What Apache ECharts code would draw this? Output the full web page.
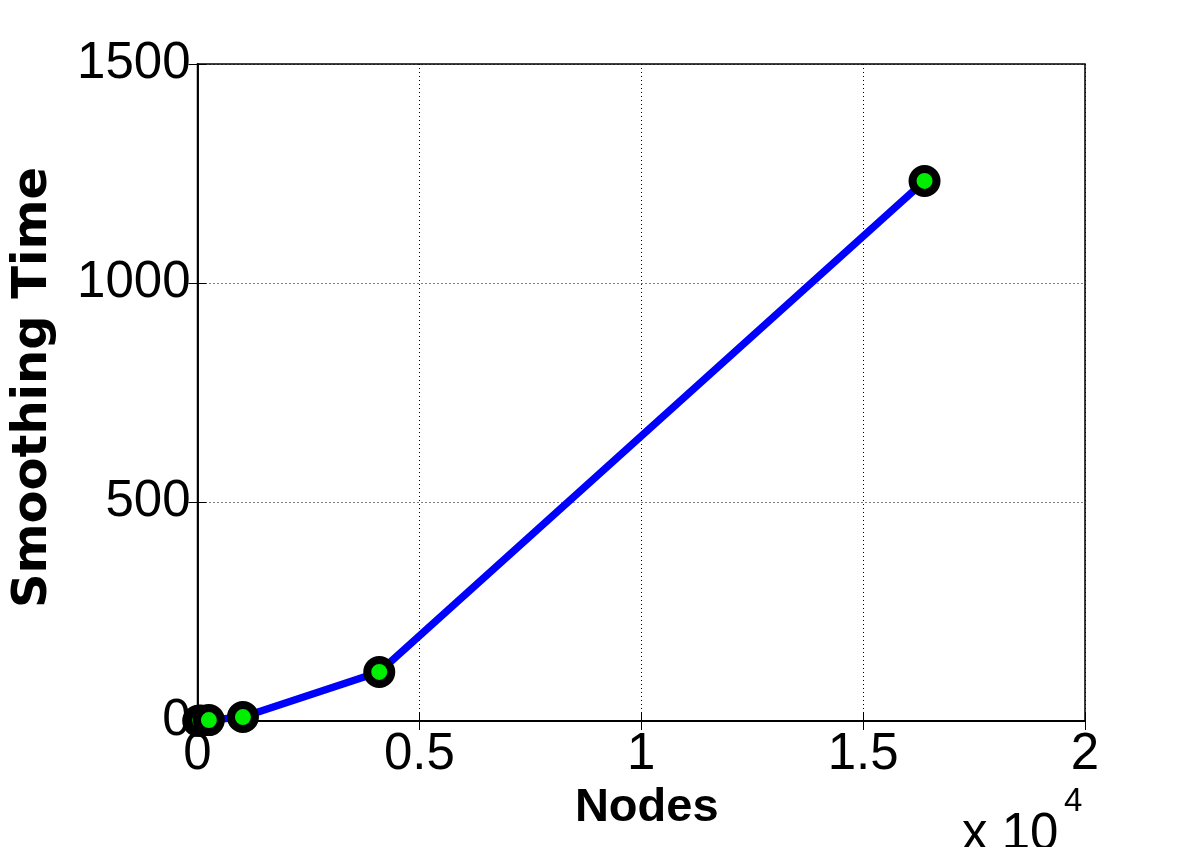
<!DOCTYPE html>
<html>
<head>
<meta charset="utf-8">
<script src="https://cdn.jsdelivr.net/npm/echarts@6/dist/echarts.min.js"></script>
<style>
html,body{margin:0;padding:0;background:#fff;}
#chart{width:1199px;height:847px;}
</style>
</head>
<body>
<div id="chart"></div>
<script>
const nodes = [16, 64, 256, 1024, 4096, 16384];
const smoothingTime = [0.3, 1, 2, 9, 112, 1233];
const xTicks = ['0', '0.5', '1', '1.5', '2'];
const yTicks = ['0', '500', '1000', '1500'];
const xName = 'Nodes';
const yName = 'Smoothing Time';
const xExponent = 'x 10';
const xExponentPow = '4';

const FONT = '"Liberation Sans", Arial, sans-serif';
const chart = echarts.init(document.getElementById('chart'));
const data = nodes.map((n, i) => [n, smoothingTime[i]]);

const axisCommon = {
  axisLine: { show: true, onZero: false, lineStyle: { color: '#000', width: 1.5 } },
  axisTick: { show: true, inside: true, length: 9, lineStyle: { color: '#000', width: 1 } },
  splitLine: { show: true, lineStyle: { color: '#000', type: [1, 3], width: 1 } }
};

chart.setOption({
  backgroundColor: '#fff',
  animation: false,
  grid: { left: 197.5, right: 114, top: 64, bottom: 126, show: true, borderColor: '#000', borderWidth: 1.5, backgroundColor: 'transparent' },
  xAxis: [{
    type: 'value', min: 0, max: 20000, interval: 5000,
    ...axisCommon,
    axisLabel: { color: '#000', fontSize: 51, fontFamily: FONT, margin: 8,
      formatter: v => xTicks[Math.round(v / 5000)] },
    name: xName, nameLocation: 'middle', nameGap: 60,
    nameTextStyle: { color: '#000', fontSize: 47, fontWeight: 'bold', fontFamily: FONT, padding: [0, 0, 0, 11] }
  }, {
    type: 'value', min: 0, max: 20000, interval: 5000, position: 'top',
    axisLine: { show: true, lineStyle: { color: '#000', width: 1.5 } },
    axisTick: { show: true, inside: true, length: 9, lineStyle: { color: '#000' } },
    axisLabel: { show: false }, splitLine: { show: false }
  }],
  yAxis: [{
    type: 'value', min: 0, max: 1500, interval: 500,
    ...axisCommon,
    axisLabel: { color: '#000', fontSize: 51, fontFamily: FONT, margin: 7,
      formatter: v => yTicks[Math.round(v / 500)] },
    name: yName, nameLocation: 'middle', nameGap: 140,
    nameTextStyle: { color: '#000', fontSize: 48, fontWeight: 'bold', fontFamily: '"DejaVu Sans", sans-serif', padding: [0, 0, 0, 10] }
  }, {
    type: 'value', min: 0, max: 1500, interval: 500, position: 'right',
    axisLine: { show: true, lineStyle: { color: '#000', width: 1.5 } },
    axisTick: { show: true, inside: true, length: 9, lineStyle: { color: '#000' } },
    axisLabel: { show: false }, splitLine: { show: false }
  }],
  graphic: [
    { type: 'text', x: 962, y: 835, style: { text: xExponent, font: '51px "Liberation Sans", Arial, sans-serif', fill: '#000', verticalAlign: 'middle', align: 'left' } },
    { type: 'text', x: 1064, y: 802, style: { text: xExponentPow, font: '33px "Liberation Sans", Arial, sans-serif', fill: '#000', verticalAlign: 'middle', align: 'left' } }
  ],
  series: [{
    type: 'line',
    data: data,
    lineStyle: { color: '#0000ff', width: 7.5 },
    symbol: 'circle',
    symbolSize: 24,
    itemStyle: { color: '#00ee00', borderColor: '#000', borderWidth: 8 },
    z: 5
  }]
});
</script>
</body>
</html>
